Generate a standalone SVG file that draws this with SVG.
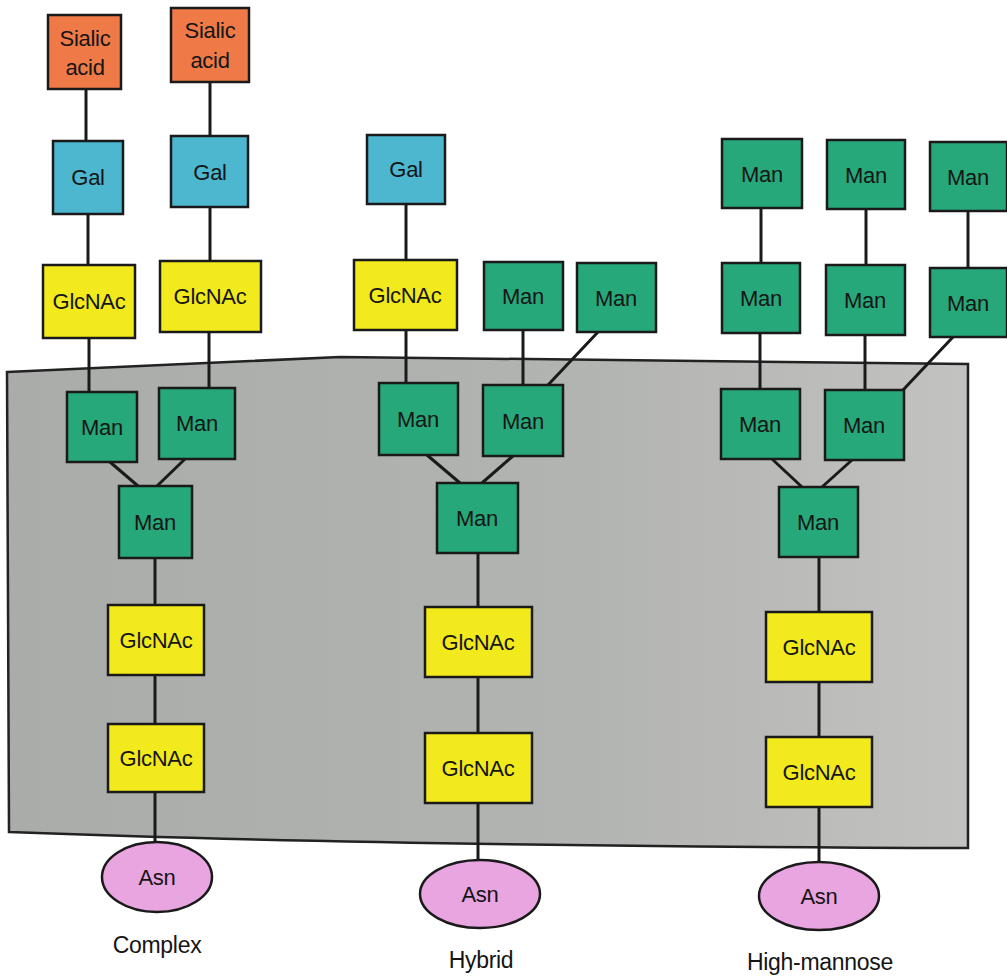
<svg xmlns="http://www.w3.org/2000/svg" width="1007" height="979" viewBox="0 0 1007 979">
<defs>
<linearGradient id="panelGrad" x1="0" y1="0" x2="1" y2="0">
<stop offset="0" stop-color="#a9aca9"/>
<stop offset="0.6" stop-color="#b2b4b2"/>
<stop offset="1" stop-color="#c2c2c0"/>
</linearGradient>
<style>
.box{stroke:#1a1a1a;stroke-width:2.5}
.sia{fill:#ef7a48}
.gal{fill:#4cb7cf}
.glc{fill:#f2ea1c}
.man{fill:#26a87a}
.asn{fill:#e9a5e0;stroke:#1a1a1a;stroke-width:2.5}
.t{font-family:"Liberation Sans",Arial,sans-serif;font-size:22px;fill:#151515;text-anchor:middle;letter-spacing:-0.3px}
.lbl{font-family:"Liberation Sans",Arial,sans-serif;font-size:23px;fill:#151515;text-anchor:middle;letter-spacing:-0.3px}
.c line{stroke:#1a1a1a;stroke-width:3}
</style>
</defs>
<rect width="1007" height="979" fill="#ffffff"/>
<path id="panel" d="M7,372 L340,357 L968,364 L968,848 Q 380,846 9,832 Z" fill="url(#panelGrad)" stroke="#222" stroke-width="2.5"/>

<g id="connectors" class="c">
<line x1="86" y1="89" x2="86" y2="141"/>
<line x1="210" y1="82" x2="210" y2="136"/>
<line x1="88" y1="214" x2="88" y2="265"/>
<line x1="210" y1="207" x2="210" y2="261"/>
<line x1="89" y1="338" x2="89" y2="392"/>
<line x1="209" y1="332" x2="209" y2="388"/>
<line x1="110" y1="462" x2="138" y2="486"/>
<line x1="185" y1="459" x2="157" y2="486"/>
<line x1="155" y1="558" x2="155" y2="605"/>
<line x1="155" y1="675" x2="155" y2="724"/>
<line x1="155" y1="792" x2="155" y2="842"/>

<line x1="406" y1="204" x2="406" y2="260"/>
<line x1="406" y1="330" x2="406" y2="383"/>
<line x1="523" y1="330" x2="523" y2="385"/>
<line x1="598" y1="332" x2="548" y2="385"/>
<line x1="427" y1="455" x2="460" y2="483"/>
<line x1="513" y1="456" x2="482" y2="483"/>
<line x1="478" y1="553" x2="478" y2="607"/>
<line x1="478" y1="677" x2="478" y2="733"/>
<line x1="478" y1="803" x2="478" y2="860"/>

<line x1="761" y1="208" x2="761" y2="263"/>
<line x1="866" y1="209" x2="866" y2="265"/>
<line x1="968" y1="211" x2="968" y2="268"/>
<line x1="760" y1="333" x2="760" y2="389"/>
<line x1="865" y1="335" x2="865" y2="390"/>
<line x1="953" y1="337" x2="903" y2="390"/>
<line x1="772" y1="459" x2="802" y2="487"/>
<line x1="852" y1="460" x2="822" y2="487"/>
<line x1="819" y1="557" x2="819" y2="612"/>
<line x1="819" y1="682" x2="819" y2="737"/>
<line x1="819" y1="807" x2="819" y2="862"/>
</g>

<!-- Complex -->
<g id="c-sia1"><rect class="box sia" x="48" y="15" width="73" height="74"/><text class="t" x="85" y="46">Sialic</text><text class="t" x="85" y="75">acid</text></g>
<g id="c-sia2"><rect class="box sia" x="171" y="8" width="78" height="74"/><text class="t" x="210" y="38">Sialic</text><text class="t" x="210" y="68">acid</text></g>
<g id="c-gal1"><rect class="box gal" x="53" y="141" width="70" height="73"/><text class="t" x="88" y="185">Gal</text></g>
<g id="c-gal2"><rect class="box gal" x="171" y="136" width="77" height="71"/><text class="t" x="210" y="180">Gal</text></g>
<g id="c-glc1"><rect class="box glc" x="43" y="265" width="92" height="73"/><text class="t" x="89" y="309">GlcNAc</text></g>
<g id="c-glc2"><rect class="box glc" x="160" y="261" width="101" height="71"/><text class="t" x="210" y="304">GlcNAc</text></g>
<g id="c-man1"><rect class="box man" x="67" y="392" width="70" height="70"/><text class="t" x="102" y="435">Man</text></g>
<g id="c-man2"><rect class="box man" x="159" y="388" width="76" height="71"/><text class="t" x="197" y="431">Man</text></g>
<g id="c-manc"><rect class="box man" x="119" y="486" width="73" height="72"/><text class="t" x="155" y="530">Man</text></g>
<g id="c-glc3"><rect class="box glc" x="108" y="605" width="96" height="70"/><text class="t" x="156" y="648">GlcNAc</text></g>
<g id="c-glc4"><rect class="box glc" x="108" y="724" width="96" height="68"/><text class="t" x="156" y="766">GlcNAc</text></g>
<g id="c-asn"><ellipse class="asn" cx="157" cy="877" rx="55" ry="35"/><text class="t" x="157" y="885">Asn</text></g>
<g id="c-label"><text class="lbl" x="157" y="953">Complex</text></g>

<!-- Hybrid -->
<g id="h-gal"><rect class="box gal" x="367" y="135" width="78" height="69"/><text class="t" x="406" y="177">Gal</text></g>
<g id="h-glc1"><rect class="box glc" x="354" y="260" width="103" height="70"/><text class="t" x="405" y="303">GlcNAc</text></g>
<g id="h-mant1"><rect class="box man" x="484" y="262" width="79" height="68"/><text class="t" x="523" y="304">Man</text></g>
<g id="h-mant2"><rect class="box man" x="577" y="263" width="79" height="69"/><text class="t" x="616" y="306">Man</text></g>
<g id="h-man1"><rect class="box man" x="379" y="383" width="79" height="72"/><text class="t" x="418" y="427">Man</text></g>
<g id="h-man2"><rect class="box man" x="483" y="385" width="80" height="71"/><text class="t" x="523" y="429">Man</text></g>
<g id="h-manc"><rect class="box man" x="437" y="483" width="81" height="70"/><text class="t" x="477" y="526">Man</text></g>
<g id="h-glc2"><rect class="box glc" x="425" y="607" width="107" height="70"/><text class="t" x="478" y="650">GlcNAc</text></g>
<g id="h-glc3"><rect class="box glc" x="425" y="733" width="107" height="70"/><text class="t" x="478" y="776">GlcNAc</text></g>
<g id="h-asn"><ellipse class="asn" cx="480" cy="894" rx="60" ry="34"/><text class="t" x="480" y="902">Asn</text></g>
<g id="h-label"><text class="lbl" x="481" y="968">Hybrid</text></g>

<!-- High-mannose -->
<g id="m-t1"><rect class="box man" x="722" y="139" width="80" height="69"/><text class="t" x="762" y="182">Man</text></g>
<g id="m-t2"><rect class="box man" x="827" y="140" width="78" height="69"/><text class="t" x="866" y="183">Man</text></g>
<g id="m-t3"><rect class="box man" x="930" y="142" width="77" height="69"/><text class="t" x="968" y="185">Man</text></g>
<g id="m-r1"><rect class="box man" x="722" y="263" width="78" height="70"/><text class="t" x="761" y="306">Man</text></g>
<g id="m-r2"><rect class="box man" x="826" y="265" width="79" height="70"/><text class="t" x="865" y="308">Man</text></g>
<g id="m-r3"><rect class="box man" x="930" y="268" width="77" height="69"/><text class="t" x="968" y="311">Man</text></g>
<g id="m-s1"><rect class="box man" x="721" y="389" width="79" height="70"/><text class="t" x="760" y="432">Man</text></g>
<g id="m-s2"><rect class="box man" x="825" y="390" width="79" height="70"/><text class="t" x="864" y="433">Man</text></g>
<g id="m-c"><rect class="box man" x="779" y="487" width="79" height="70"/><text class="t" x="818" y="530">Man</text></g>
<g id="m-glc1"><rect class="box glc" x="766" y="612" width="106" height="70"/><text class="t" x="819" y="655">GlcNAc</text></g>
<g id="m-glc2"><rect class="box glc" x="766" y="737" width="106" height="70"/><text class="t" x="819" y="780">GlcNAc</text></g>
<g id="m-asn"><ellipse class="asn" cx="819" cy="896" rx="60" ry="34"/><text class="t" x="819" y="904">Asn</text></g>
<g id="m-label"><text class="lbl" x="820" y="970">High-mannose</text></g>
</svg>
